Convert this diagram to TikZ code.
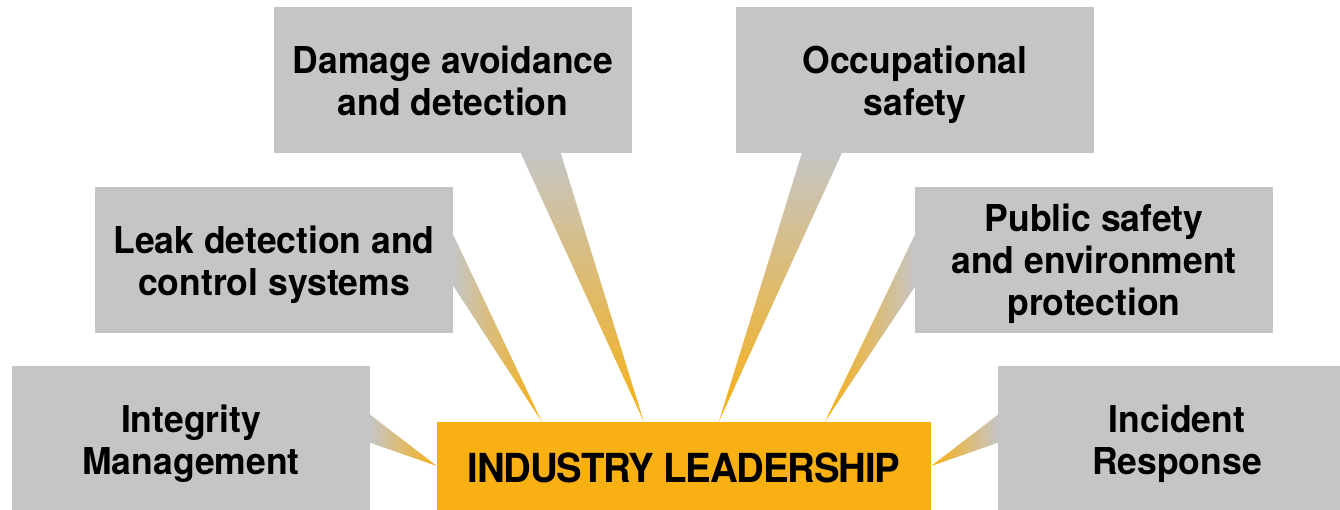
\documentclass[tikz,border=0pt]{standalone}
\usepackage{fontspec}
\setmainfont{TeX Gyre Heros}
\newfontfamily\topicfont{TeX Gyre Heros}[FakeStretch=0.96]
\newfontfamily\hubfont{TeX Gyre Heros}[FakeStretch=0.96, LetterSpace=-3]
\usetikzlibrary{calc,backgrounds}
\definecolor{boxgrey}{HTML}{C5C5C5}
\definecolor{lead}{HTML}{F8B013}
\newcommand{\boxlines}[2][-6.6pt]{\raisebox{#1}[\height][\depth]{\begin{tabular}{@{}c@{}}#2\end{tabular}}}
\tikzset{
  topic/.style={fill=boxgrey, minimum width=358pt, minimum height=146pt, inner sep=0pt,
    font=\topicfont\fontsize{37}{42}\selectfont\bfseries},
  hub/.style={fill=lead, minimum width=494pt, minimum height=88pt, inner sep=0pt,
    font=\hubfont\fontsize{40}{42}\selectfont\bfseries},
}
\begin{document}
\begin{tikzpicture}[x=1pt,y=-1pt]
\useasboundingbox (0,0) rectangle (1340,510);
\node[hub] (c) at (684,466) {\boxlines[-7.6pt]{INDUSTRY LEADERSHIP}};
\node[topic, minimum height=144pt] (integ) at (191,438) {\boxlines{Integrity\\Management}};
\node[topic] (leak) at (274,260) {\boxlines{Leak detection and\\control systems}};
\node[topic] (dam) at (453,80) {\boxlines{Damage avoidance\\and detection}};
\node[topic] (occ) at (915,80) {\boxlines{Occupational\\safety}};
\node[topic] (pub) at (1094,260) {\boxlines[-5.6pt]{Public safety\\and environment\\protection}};
\node[topic, minimum height=144pt] (inc) at (1177,438) {\boxlines{Incident\\Response}};
\begin{scope}[on background layer]
\shade[left color=boxgrey, right color=lead]
  ($(integ.north east)+(0,49)$) -- ($(integ.north east)+(0,77)$) -- (c.west) -- cycle;
\shade[left color=boxgrey, right color=lead]
  ($(leak.north east)+(0,48)$) -- ($(leak.north east)+(0,99)$) -- ($(c.north west)+(105,0)$) -- cycle;
\shade[top color=boxgrey, bottom color=lead]
  ($(dam.south west)+(247,0)$) -- ($(dam.south west)+(287,0)$) -- ($(c.north west)+(207,0)$) -- cycle;
\shade[top color=boxgrey, bottom color=lead]
  ($(occ.south west)+(66,0)$) -- ($(occ.south west)+(106,0)$) -- ($(c.north west)+(282,0)$) -- cycle;
\shade[left color=lead, right color=boxgrey]
  ($(pub.north west)+(0,48)$) -- ($(pub.north west)+(0,100)$) -- ($(c.north west)+(388,0)$) -- cycle;
\shade[left color=lead, right color=boxgrey]
  ($(inc.north west)+(0,49)$) -- ($(inc.north west)+(0,77)$) -- (c.east) -- cycle;
\end{scope}
\end{tikzpicture}
\end{document}
